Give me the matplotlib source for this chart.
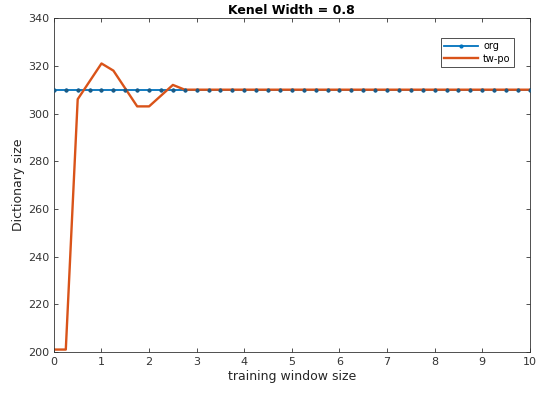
import matplotlib
matplotlib.use("Agg")
import matplotlib.pyplot as plt
import numpy as np

# training window sizes
window = np.arange(0, 10.01, 0.25)

# org: constant dictionary size
org = [310] * len(window)

# tw-po: values (first 12 points), then flat at 310
tw_po_head = [201, 201, 306, 313.5, 321, 318, 310.5, 303, 303, 307.5, 312, 310]
tw_po = tw_po_head + [310] * (len(window) - len(tw_po_head))

fig = plt.figure(figsize=(5.39, 3.95), dpi=100)
ax = fig.add_axes([0.100, 0.109, 0.883, 0.845])

ax.plot(window, org, color='#0072BD', lw=1.3, marker='.', ms=4, label='org')
ax.plot(window, tw_po, color='#D95319', lw=1.7, label='tw-po')
# org markers stay visible over the orange line
ax.plot(window, org, ls='none', marker='.', ms=3.5, color='#1f5a80', zorder=5)

ax.set_xlim(0, 10)
ax.set_ylim(200, 340)
ax.set_xticks(np.arange(0, 11, 1))
ax.set_yticks(np.arange(200, 341, 20))

ax.tick_params(direction='in', top=True, right=True, length=3, width=0.6,
               labelsize=8, colors='#333333')
for s in ax.spines.values():
    s.set_color('#333333')
    s.set_linewidth(0.6)

ax.set_xlabel('training window size', fontsize=9, color='#262626', labelpad=2)
ax.set_ylabel('Dictionary size', fontsize=9, color='#262626', labelpad=2)
ax.set_title('Kenel Width = 0.8', fontsize=9, fontweight='bold', pad=3)

leg = ax.legend(loc='upper right', fontsize=7, fancybox=False, framealpha=1,
                edgecolor='#333333', handlelength=3.5, bbox_to_anchor=(0.977, 0.955),
                borderpad=0.35, labelspacing=0.25, handletextpad=0.5)
leg.get_frame().set_linewidth(0.6)

fig.savefig('out.png', dpi=100)
